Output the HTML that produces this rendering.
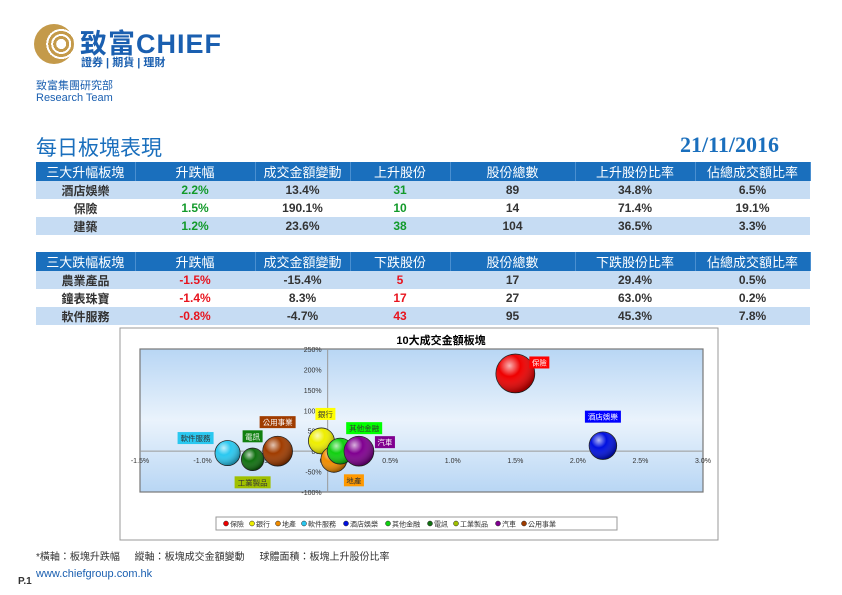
<!DOCTYPE html>
<html><head><meta charset="utf-8">
<style>
body{margin:0;width:842px;height:595px;background:#fff;position:relative;overflow:hidden;font-family:"Liberation Sans","Noto Sans CJK TC",sans-serif}
.a{position:absolute}
table{position:absolute;left:36px;border-collapse:collapse;font-size:12px;font-weight:bold;table-layout:fixed}
td{height:18px;padding:0;text-align:center;color:#333}
tr.h td{background:#1a6fbd;color:#fff;font-weight:normal;font-size:13px;border-right:1px solid #4a8fd0}
tr.b td{background:#c6dcf3}
.g{color:#129a2a}.r{color:#e8141e}
</style></head><body>
<div class="a" style="left:34px;top:24px;width:40px;height:40px;border-radius:50%;background:radial-gradient(circle at 68% 50%,#fff 0 5px,#c49a4a 5px 8px,#fff 8px 10px,#c49a4a 10px 13px,#fff 13px 15px,#c49a4a 15px)"></div>
<div class="a" style="left:80px;top:22px;font-size:27px;font-weight:bold;color:#1a5fb0;letter-spacing:1px">致富CHIEF</div>
<div class="a" style="left:81px;top:54px;font-size:11px;color:#1a5fb0;font-weight:bold">證券 | 期貨 | 理財</div>
<div class="a" style="left:36px;top:77px;font-size:11px;color:#1a5fb0">致富集團研究部</div>
<div class="a" style="left:36px;top:92px;font-size:11px;color:#1a5fb0">Research Team</div>
<div class="a" style="left:36px;top:132px;font-size:21px;color:#1a6fbd">每日板塊表現</div>
<div class="a" style="left:680px;top:132px;font-size:22px;font-weight:bold;color:#1a6fbd;font-family:'Liberation Serif',serif">21/11/2016</div>
<table style="top:162px">
<colgroup><col style="width:99px"><col style="width:120px"><col style="width:95px"><col style="width:100px"><col style="width:125px"><col style="width:120px"><col style="width:115px"></colgroup>
<tr class="h"><td>三大升幅板塊</td><td>升跌幅</td><td>成交金額變動</td><td>上升股份</td><td>股份總數</td><td>上升股份比率</td><td>佔總成交額比率</td></tr>
<tr class="b"><td>酒店娛樂</td><td class="g">2.2%</td><td>13.4%</td><td class="g">31</td><td>89</td><td>34.8%</td><td>6.5%</td></tr>
<tr><td>保險</td><td class="g">1.5%</td><td>190.1%</td><td class="g">10</td><td>14</td><td>71.4%</td><td>19.1%</td></tr>
<tr class="b"><td>建築</td><td class="g">1.2%</td><td>23.6%</td><td class="g">38</td><td>104</td><td>36.5%</td><td>3.3%</td></tr>
</table>
<table style="top:252px">
<colgroup><col style="width:99px"><col style="width:120px"><col style="width:95px"><col style="width:100px"><col style="width:125px"><col style="width:120px"><col style="width:115px"></colgroup>
<tr class="h"><td>三大跌幅板塊</td><td>升跌幅</td><td>成交金額變動</td><td>下跌股份</td><td>股份總數</td><td>下跌股份比率</td><td>佔總成交額比率</td></tr>
<tr class="b"><td>農業產品</td><td class="r">-1.5%</td><td>-15.4%</td><td class="r">5</td><td>17</td><td>29.4%</td><td>0.5%</td></tr>
<tr><td>鐘表珠寶</td><td class="r">-1.4%</td><td>8.3%</td><td class="r">17</td><td>27</td><td>63.0%</td><td>0.2%</td></tr>
<tr class="b"><td>軟件服務</td><td class="r">-0.8%</td><td>-4.7%</td><td class="r">43</td><td>95</td><td>45.3%</td><td>7.8%</td></tr>
</table>
<svg class="a" style="left:0;top:0" width="842" height="595">
<defs>
<linearGradient id="bg" x1="0" y1="0" x2="0" y2="1"><stop offset="0" stop-color="#b8d6f4"/><stop offset="0.5" stop-color="#eaf3fc"/><stop offset="1" stop-color="#b8d6f4"/></linearGradient>
<radialGradient id="sh" cx="0.35" cy="0.3" r="0.7"><stop offset="0" stop-color="#fff" stop-opacity="0.7"/><stop offset="0.4" stop-color="#fff" stop-opacity="0"/><stop offset="1" stop-color="#000" stop-opacity="0.35"/></radialGradient>
</defs>
<rect x="120" y="328" width="598" height="212" fill="#fff" stroke="#999"/>
<text x="441" y="344" text-anchor="middle" font-size="11" font-weight="bold">10大成交金額板塊</text>
<rect x="140" y="349" width="563" height="143" fill="url(#bg)" stroke="#777" stroke-width="1.2"/>
<g id="ax"></g><g id="bub"></g>
<rect x="216" y="517" width="401" height="13" fill="#fff" stroke="#999"/>
<g id="leg"></g>
</svg>
<div class="a" style="left:36px;top:548px;font-size:10px;color:#333;word-spacing:12px">*橫軸：板塊升跌幅 縱軸：板塊成交金額變動 球體面積：板塊上升股份比率</div>
<div class="a" style="left:18px;top:576px;font-size:10px;font-weight:bold;color:#333">P.1</div>
<div class="a" style="left:36px;top:568px;font-size:11px;color:#1a5fb0">www.chiefgroup.com.hk</div>
<script>
const sectors=["保險","銀行","地產","軟件服務","酒店娛樂","其他金融","電訊","工業製品","汽車","公用事業"];
const xVals=[1.5,-0.05,0.05,-0.8,2.2,0.1,-0.6,-0.6,0.25,-0.4];
const yVals=[190.1,25,-20,-4.7,13.4,0,-20,-20,0,0];
const sizeVals=[71.4,32,32,30,36,32,24,0,42,42];
const colors=["#e00","#ee0","#f08c00","#2ac8f0","#0010e0","#10d010","#107010","#a0c000","#800090","#a03c00"];
const xTicks=[-1.5,-1.0,-0.5,0,0.5,1.0,1.5,2.0,2.5,3.0];
const xTickLabels=["-1.5%","-1.0%","-0.5%","0.0%","0.5%","1.0%","1.5%","2.0%","2.5%","3.0%"];
const yTicks=[250,200,150,100,50,0,-50,-100];
const yTickLabels=["250%","200%","150%","100%","50%","0%","-50%","-100%"];
const X=v=>140+(v+1.5)/4.5*563, Y=v=>349+(250-v)/350*143, R=s=>2.3*Math.sqrt(s);
const NS="http://www.w3.org/2000/svg";
function mk(t,a,p){const e=document.createElementNS(NS,t);for(const k in a)e.setAttribute(k,a[k]);p.appendChild(e);return e;}
const ax=document.getElementById('ax'),bub=document.getElementById('bub'),leg=document.getElementById('leg');
mk('line',{x1:140,x2:703,y1:Y(0),y2:Y(0),stroke:'#999'},ax);
mk('line',{x1:X(0),x2:X(0),y1:349,y2:492,stroke:'#999'},ax);
xTicks.forEach((v,i)=>{const t=mk('text',{x:X(v),y:Y(0)+12,'text-anchor':'middle','font-size':7,fill:'#333'},ax);t.textContent=xTickLabels[i];

});
yTicks.forEach((v,i)=>{const t=mk('text',{x:X(0)-6,y:Y(v)+3,'text-anchor':'end','font-size':7,fill:'#333'},ax);t.textContent=yTickLabels[i];

});
const lblOff=[[14,-10,'start'],[4,-26,'middle'],[10,22,'start'],[-14,-14,'end'],[0,-28,'middle'],[6,-22,'start'],[0,-22,'middle'],[0,24,'middle'],[16,-8,'start'],[0,-28,'middle']];
const lblColors=["#f00","#ff0","#f90","#2ac8f0","#00f","#0f0","#108010","#a0c000","#800090","#a03c00"];
const txtCol=["#fff","#333","#333","#333","#fff","#333","#fff","#333","#fff","#fff"];
sectors.forEach((s,i)=>{const cx=X(xVals[i]),cy=Y(yVals[i]),r=sizeVals[i]>0?R(sizeVals[i]):0;
if(r>0){const c=mk('circle',{cx,cy,r,fill:colors[i],stroke:'#222','stroke-width':0.8},bub);


mk('circle',{cx,cy,r,fill:'url(#sh)'},bub);}
const o=lblOff[i],w=s.length*8+4,lx=cx+o[0],ly=cy+o[1];
const bx=o[2]=='start'?lx:o[2]=='end'?lx-w:lx-w/2;
mk('rect',{x:bx,y:ly-7,width:w,height:12,fill:lblColors[i]},bub);
const t=mk('text',{x:bx+w/2,y:ly+2,'text-anchor':'middle','font-size':7.5,fill:txtCol[i]},bub);t.textContent=s;

});
let lx=226;sectors.forEach((s,i)=>{mk('circle',{cx:lx,cy:523.5,r:2.5,fill:colors[i],stroke:'#222','stroke-width':0.5},leg);
const t=mk('text',{x:lx+4,y:526.5,'font-size':7,fill:'#333'},leg);t.textContent=s;


lx+=s.length*8+10;});
</script>
</body></html>
